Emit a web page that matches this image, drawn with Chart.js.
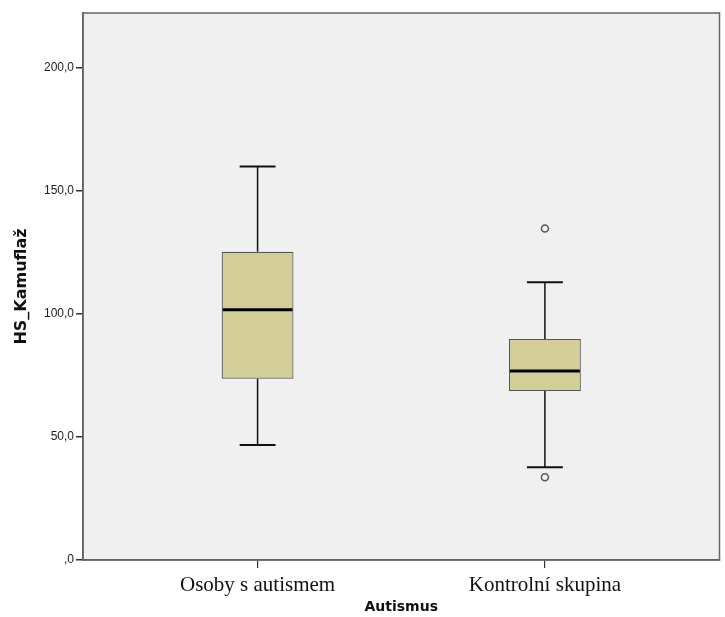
<!DOCTYPE html>
<html>
<head>
<meta charset="utf-8">
<script src="https://cdn.jsdelivr.net/npm/chart.js@4"></script>
<style>
  html, body { margin: 0; padding: 0; background: #ffffff; }
  canvas { display: block; }
</style>
</head>
<body>
<canvas id="chart" width="725" height="617"></canvas>
<script>
// Groups and five-number summaries of HS_Kamuflaž
const groups = ['Osoby s autismem', 'Kontrolní skupina'];
const groupPos = [1, 2];
const whiskerLow = [46.7, 37.7];
const q1 = [73.7, 68.7];
const median = [101.7, 76.8];
const q3 = [125.3, 89.8];
const whiskerHigh = [160.0, 112.9];
const outliers = [[], [134.8, 33.6]];
const yTicks = [0, 50, 100, 150, 200];

const BOX_FILL = 'rgb(211,206,152)';
const BOX_EDGE = '#555555';

const boxData = groupPos.map((x, i) => ({ x: x, y: [q1[i], q3[i]] }));
const outlierData = [];
outliers.forEach((list, i) => list.forEach(v => outlierData.push({ x: groupPos[i], y: v })));

function fmt(v) {
  if (v === 0) return ',0';
  return v.toFixed(1).replace('.', ',');
}

const boxPlotPlugin = {
  id: 'boxPlotParts',
  beforeDraw(chart) {
    const { ctx, chartArea: a } = chart;
    ctx.save();
    ctx.fillStyle = '#f0f0f0';
    ctx.fillRect(a.left, a.top, a.right - a.left, a.bottom - a.top);
    ctx.restore();
  },
  beforeDatasetsDraw(chart) {
    const { ctx, scales: { x, y } } = chart;
    const meta = chart.getDatasetMeta(0);
    ctx.save();
    ctx.strokeStyle = '#111111';
    groupPos.forEach((g, i) => {
      const bar = meta.data[i];
      const cx = x.getPixelForValue(g);
      const half = bar.width / 4;
      ctx.lineWidth = 1.5;
      ctx.beginPath();
      ctx.moveTo(cx, y.getPixelForValue(whiskerHigh[i]));
      ctx.lineTo(cx, y.getPixelForValue(q3[i]));
      ctx.moveTo(cx, y.getPixelForValue(q1[i]));
      ctx.lineTo(cx, y.getPixelForValue(whiskerLow[i]));
      ctx.stroke();
      ctx.lineWidth = 2;
      ctx.beginPath();
      ctx.moveTo(cx - half, y.getPixelForValue(whiskerHigh[i]));
      ctx.lineTo(cx + half, y.getPixelForValue(whiskerHigh[i]));
      ctx.moveTo(cx - half, y.getPixelForValue(whiskerLow[i]));
      ctx.lineTo(cx + half, y.getPixelForValue(whiskerLow[i]));
      ctx.stroke();
    });
    ctx.restore();
  },
  afterDatasetsDraw(chart) {
    const { ctx, scales: { x, y }, chartArea: a } = chart;
    const meta = chart.getDatasetMeta(0);
    ctx.save();
    ctx.strokeStyle = '#000000';
    ctx.lineWidth = 3;
    groupPos.forEach((g, i) => {
      const bar = meta.data[i];
      const cx = x.getPixelForValue(g);
      const half = bar.width / 2;
      const my = y.getPixelForValue(median[i]);
      ctx.beginPath();
      ctx.moveTo(cx - half + 1, my);
      ctx.lineTo(cx + half - 1, my);
      ctx.stroke();
    });
    // frame around the plot area
    ctx.strokeStyle = '#666666';
    ctx.lineWidth = 1.5;
    ctx.strokeRect(a.left, a.top, a.right - a.left, a.bottom - a.top);
    ctx.restore();
  }
};

new Chart(document.getElementById('chart'), {
  type: 'bar',
  data: {
    datasets: [
      {
        type: 'bar',
        data: boxData,
        backgroundColor: BOX_FILL,
        borderColor: BOX_EDGE,
        borderWidth: 1.2,
        borderSkipped: false,
        barPercentage: 0.25,
        categoryPercentage: 1.0,
        order: 2
      },
      {
        type: 'scatter',
        data: outlierData,
        pointStyle: 'circle',
        pointRadius: 3.5,
        pointBorderWidth: 1.5,
        pointBackgroundColor: '#f0f0f0',
        pointBorderColor: '#555555',
        order: 1
      }
    ]
  },
  options: {
    responsive: false,
    animation: false,
    layout: { padding: { top: 13, right: 4, left: 0, bottom: 0 } },
    plugins: {
      legend: { display: false },
      tooltip: { enabled: false }
    },
    scales: {
      x: {
        type: 'linear',
        offset: false,
        min: 0.3924,
        max: 2.6076,
        afterBuildTicks(scale) {
          scale.ticks = groupPos.map(v => ({ value: v }));
        },
        afterFit(scale) {
          scale.height = 57;
          scale.paddingLeft = 0;
          scale.paddingRight = 0;
        },
        ticks: {
          callback: (v) => groups[groupPos.indexOf(v)] || '',
          color: '#111111',
          font: { family: '"Liberation Serif", "Times New Roman", serif', size: 21 },
          padding: 5,
          maxRotation: 0,
          autoSkip: false
        },
        grid: { display: true, offset: false, drawOnChartArea: false, drawTicks: true, tickLength: 8, color: '#333333', lineWidth: 1.2 },
        border: { display: true, color: '#555555', width: 1.5 },
        title: {
          display: true,
          text: 'Autismus',
          color: '#111111',
          font: { family: '"DejaVu Sans", sans-serif', size: 14, weight: 'bold' },
          padding: { top: 0, bottom: 1 }
        }
      },
      y: {
        type: 'linear',
        min: 0,
        max: 222.36,
        afterBuildTicks(scale) {
          scale.ticks = yTicks.map(v => ({ value: v }));
        },
        afterFit(scale) {
          scale.width = 83;
          scale.paddingTop = 0;
          scale.paddingBottom = 0;
        },
        ticks: {
          callback: (v) => fmt(v),
          color: '#222222',
          font: { family: '"Liberation Sans", Arial, sans-serif', size: 12 },
          padding: 2
        },
        grid: { display: true, drawOnChartArea: false, drawTicks: true, tickLength: 7, color: '#333333', lineWidth: 1.5 },
        border: { display: true, color: '#555555', width: 1.5 },
        title: {
          display: true,
          text: 'HS_Kamuflaž',
          color: '#111111',
          font: { family: '"DejaVu Sans", sans-serif', size: 16, weight: 'bold' },
          padding: { top: 12, bottom: 0 }
        }
      }
    }
  },
  plugins: [boxPlotPlugin]
});
</script>
</body>
</html>
